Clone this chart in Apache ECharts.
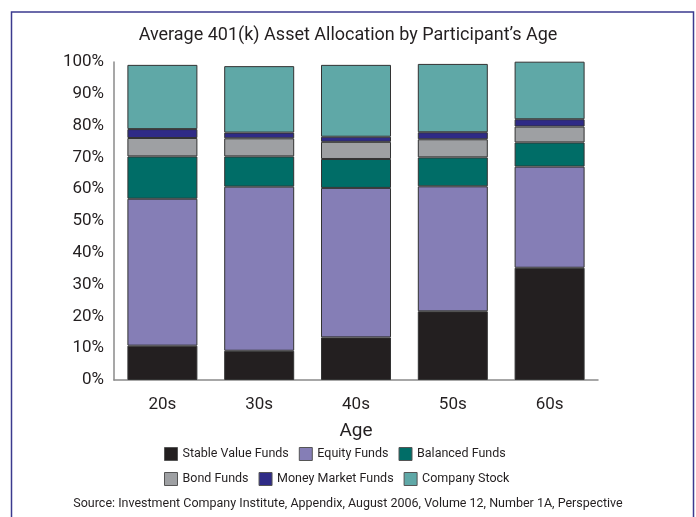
<!DOCTYPE html>
<html>
<head>
<meta charset="utf-8">
<script src="https://cdn.jsdelivr.net/npm/echarts@6/dist/echarts.min.js"></script>
<style>
  html, body { margin: 0; padding: 0; background: #fff; }
  #chart { width: 696px; height: 517px; }
</style>
</head>
<body>
<div id="chart"></div>
<script>
// categories and series values (percent of account assets)
const ages = ['20s', '30s', '40s', '50s', '60s']
const stableValue = [10.8, 9.2, 13.4, 21.6, 35.3]
const equityFunds = [46.2, 51.6, 47.0, 39.3, 31.8]
const balancedFunds = [13.3, 9.5, 9.1, 9.1, 7.6]
const bondFunds = [5.8, 5.7, 5.4, 5.7, 5.0]
const moneyMarket = [2.8, 1.8, 1.6, 2.2, 2.3]
const companyStock = [20.2, 20.9, 22.6, 21.5, 18.1]

const FONT = 'Roboto, "Liberation Sans", sans-serif'

const seriesDefs = [
  { name: 'Stable Value Funds', data: stableValue, color: '#231f20' },
  { name: 'Equity Funds', data: equityFunds, color: '#857eb6' },
  { name: 'Balanced Funds', data: balancedFunds, color: '#006d67' },
  { name: 'Bond Funds', data: bondFunds, color: '#9ea0a3' },
  { name: 'Money Market Funds', data: moneyMarket, color: '#2f2b86' },
  { name: 'Company Stock', data: companyStock, color: '#5fa8a7' }
]

const chart = echarts.init(document.getElementById('chart'))

const legendBase = {
  left: 159,
  orient: 'horizontal',
  itemWidth: 13,
  itemHeight: 13,
  itemGap: 10,
  icon: 'rect',
  textStyle: { fontFamily: FONT, fontSize: 12.5, color: '#231f20' },
  itemStyle: { borderColor: '#555', borderWidth: 1 },
  selectedMode: false
}

chart.setOption({
  animation: false,
  title: {
    text: 'Average 401(k) Asset Allocation by Participant\u2019s Age',
    left: 'center',
    top: 21,
    textStyle: { fontFamily: FONT, fontSize: 18, fontWeight: 'normal', color: '#231f20' }
  },
  legend: [
    Object.assign({}, legendBase, { top: 442, data: ['Stable Value Funds', 'Equity Funds', 'Balanced Funds'] }),
    Object.assign({}, legendBase, { top: 467, data: ['Bond Funds', 'Money Market Funds', 'Company Stock'] })
  ],
  graphic: [
    {
      type: 'rect',
      shape: { x: 11.5, y: 12, width: 682, height: 530 },
      style: { fill: 'none', stroke: '#3b3a8e', lineWidth: 1.5 },
      silent: true
    },
    {
      type: 'text',
      left: 'center',
      top: 497,
      style: {
        text: 'Source: Investment Company Institute, Appendix, August 2006, Volume 12, Number 1A, Perspective',
        font: '12.5px ' + FONT,
        fill: '#231f20'
      }
    }
  ],
  grid: { left: 114, right: 98, top: 62, bottom: 137 },
  xAxis: {
    type: 'category',
    data: ages,
    name: 'Age',
    nameLocation: 'middle',
    nameGap: 42,
    nameTextStyle: { fontFamily: FONT, fontSize: 19, color: '#231f20' },
    axisLine: { lineStyle: { color: '#8a8a8a', width: 1.5 } },
    axisTick: { show: false },
    axisLabel: { fontFamily: FONT, fontSize: 17, color: '#231f20', margin: 16 }
  },
  yAxis: {
    type: 'value',
    min: 0,
    max: 100,
    interval: 10,
    axisLine: { show: true, lineStyle: { color: '#8a8a8a', width: 1.5 } },
    axisTick: { show: false },
    splitLine: { show: false },
    axisLabel: { fontFamily: FONT, fontSize: 17, color: '#231f20', margin: 10, formatter: '{value}%' }
  },
  series: seriesDefs.map(s => ({
    name: s.name,
    type: 'bar',
    stack: 'total',
    barWidth: 70,
    data: s.data,
    itemStyle: { color: s.color, borderColor: '#333', borderWidth: 1 }
  }))
})
</script>
</body>
</html>
